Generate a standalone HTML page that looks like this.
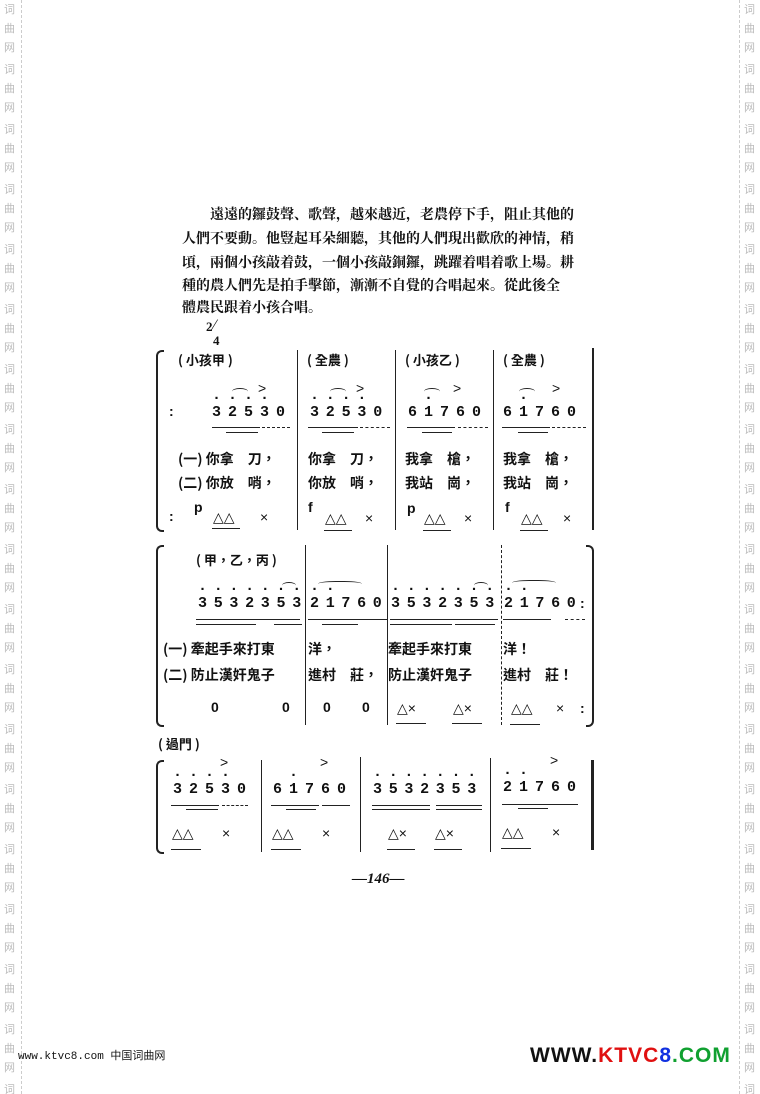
<!DOCTYPE html>
<html><head><meta charset="utf-8">
<style>
html,body{margin:0;padding:0;background:#fff;width:760px;height:1094px;overflow:hidden;}
body{position:relative;font-family:"Liberation Serif","Noto Serif CJK SC","Noto Sans CJK TC",serif;color:#111;}
.a{position:absolute;white-space:pre;line-height:1;}
.wm{position:absolute;font-family:"Noto Sans CJK SC",sans-serif;font-size:11px;color:#bbb;line-height:19px;width:14px;height:60px;white-space:pre;}
.dl{position:absolute;top:0;height:1094px;border-left:1px dashed #ccc;}
.t{position:absolute;font-size:14px;line-height:1;font-family:"Noto Serif CJK SC","Noto Sans CJK TC",serif;font-weight:bold;white-space:nowrap;text-align:justify;text-align-last:justify;}
.n{position:absolute;font-family:"Liberation Mono",monospace;font-size:15px;font-weight:bold;line-height:1;white-space:pre;}
.d{position:absolute;font-family:"Liberation Mono",monospace;font-size:15px;font-weight:bold;line-height:1;white-space:pre;}
.h{position:absolute;height:0;border-top:1.3px solid #222;}
.v{position:absolute;width:0;border-left:1.5px solid #222;}
.l{position:absolute;font-size:13px;font-family:"Noto Sans CJK TC","Noto Sans CJK SC",sans-serif;font-weight:bold;line-height:1;white-space:pre;}
.s{position:absolute;font-size:14px;font-family:"Liberation Sans",sans-serif;line-height:1;white-space:pre;}
.br{position:absolute;width:6px;border:2px solid #222;border-right:none;border-radius:6px 0 0 6px;}
.slur{position:absolute;height:6px;border-top:1.5px solid #222;border-radius:50% 50% 0 0;}
</style></head><body>

<div class="dl" style="left:21px"></div>
<div class="dl" style="left:739px"></div>

<div class="wm" style="left:4px;top:0">词
曲
网</div><div class="wm" style="left:4px;top:60px">词
曲
网</div><div class="wm" style="left:4px;top:120px">词
曲
网</div><div class="wm" style="left:4px;top:180px">词
曲
网</div><div class="wm" style="left:4px;top:240px">词
曲
网</div><div class="wm" style="left:4px;top:300px">词
曲
网</div><div class="wm" style="left:4px;top:360px">词
曲
网</div><div class="wm" style="left:4px;top:420px">词
曲
网</div><div class="wm" style="left:4px;top:480px">词
曲
网</div><div class="wm" style="left:4px;top:540px">词
曲
网</div><div class="wm" style="left:4px;top:600px">词
曲
网</div><div class="wm" style="left:4px;top:660px">词
曲
网</div><div class="wm" style="left:4px;top:720px">词
曲
网</div><div class="wm" style="left:4px;top:780px">词
曲
网</div><div class="wm" style="left:4px;top:840px">词
曲
网</div><div class="wm" style="left:4px;top:900px">词
曲
网</div><div class="wm" style="left:4px;top:960px">词
曲
网</div><div class="wm" style="left:4px;top:1020px">词
曲
网</div><div class="wm" style="left:4px;top:1080px">词</div>
<div class="wm" style="left:744px;top:0">词
曲
网</div><div class="wm" style="left:744px;top:60px">词
曲
网</div><div class="wm" style="left:744px;top:120px">词
曲
网</div><div class="wm" style="left:744px;top:180px">词
曲
网</div><div class="wm" style="left:744px;top:240px">词
曲
网</div><div class="wm" style="left:744px;top:300px">词
曲
网</div><div class="wm" style="left:744px;top:360px">词
曲
网</div><div class="wm" style="left:744px;top:420px">词
曲
网</div><div class="wm" style="left:744px;top:480px">词
曲
网</div><div class="wm" style="left:744px;top:540px">词
曲
网</div><div class="wm" style="left:744px;top:600px">词
曲
网</div><div class="wm" style="left:744px;top:660px">词
曲
网</div><div class="wm" style="left:744px;top:720px">词
曲
网</div><div class="wm" style="left:744px;top:780px">词
曲
网</div><div class="wm" style="left:744px;top:840px">词
曲
网</div><div class="wm" style="left:744px;top:900px">词
曲
网</div><div class="wm" style="left:744px;top:960px">词
曲
网</div><div class="wm" style="left:744px;top:1020px">词
曲
网</div><div class="wm" style="left:744px;top:1080px">词</div>

<!-- paragraph -->
<div class="t" style="left:210px;top:207px;width:347px">遠遠的鑼鼓聲、歌聲，越來越近，老農停下手，阻止其他的</div>
<div class="t" style="left:182px;top:231px;width:375px">人們不要動。他豎起耳朵細聽，其他的人們現出歡欣的神情，稍</div>
<div class="t" style="left:182px;top:255px;width:375px">頃，兩個小孩敲着鼓，一個小孩敲銅鑼，跳躍着唱着歌上場。耕</div>
<div class="t" style="left:182px;top:278px;width:375px">種的農人們先是拍手擊節，漸漸不自覺的合唱起來。從此後全</div>
<div class="t" style="left:182px;top:300px;width:150px;text-align-last:left">體農民跟着小孩合唱。</div>

<div class="a" style="left:206px;top:320px;font-size:13px;font-weight:bold">2</div>
<div class="a" style="left:212px;top:318px;font-size:16px;transform:skewX(-15deg)">/</div>
<div class="a" style="left:213px;top:334px;font-size:13px;font-weight:bold">4</div>

<!-- ROW 1 -->
<div class="br" style="left:156px;top:350px;height:178px"></div>
<div class="v" style="left:297px;top:350px;height:180px"></div>
<div class="v" style="left:395px;top:350px;height:180px"></div>
<div class="v" style="left:493px;top:350px;height:180px"></div>
<div class="v" style="left:592px;top:348px;height:182px;border-left-width:2px"></div>
<div class="s" style="left:169px;top:404px;font-weight:bold">:</div>
<div class="s" style="left:169px;top:509px;font-weight:bold">:</div>

<div class="l" style="left:178px;top:353px">( 小孩甲 )</div>
<div class="l" style="left:307px;top:353px">( 全農 )</div>
<div class="l" style="left:405px;top:353px">( 小孩乙 )</div>
<div class="l" style="left:503px;top:353px">( 全農 )</div>

<div class="n" style="left:212px;top:405px;letter-spacing:7px">32530</div>
<div class="d" style="left:212px;top:391px;letter-spacing:7px">····</div>
<div class="n" style="left:310px;top:405px;letter-spacing:6.8px">32530</div>
<div class="d" style="left:310px;top:391px;letter-spacing:6.8px">····</div>
<div class="n" style="left:408px;top:405px;letter-spacing:7px">61760</div>
<div class="d" style="left:408px;top:391px;letter-spacing:7px"> ·</div>
<div class="n" style="left:503px;top:405px;letter-spacing:7px">61760</div>
<div class="d" style="left:503px;top:391px;letter-spacing:7px"> ·</div>
<div class="slur" style="left:232px;top:388px;width:16px"></div>
<div class="slur" style="left:330px;top:388px;width:16px"></div>
<div class="slur" style="left:424px;top:388px;width:16px"></div>
<div class="slur" style="left:519px;top:388px;width:16px"></div>
<div class="s" style="left:258px;top:381px">&gt;</div>
<div class="s" style="left:356px;top:381px">&gt;</div>
<div class="s" style="left:453px;top:381px">&gt;</div>
<div class="s" style="left:552px;top:381px">&gt;</div>
<div class="h" style="left:212px;top:427px;width:48px"></div><div class="h" style="left:226px;top:432px;width:32px"></div><div class="h" style="left:262px;top:427px;width:28px;border-top-style:dashed"></div>
<div class="h" style="left:308px;top:427px;width:50px"></div><div class="h" style="left:322px;top:432px;width:32px"></div><div class="h" style="left:360px;top:427px;width:30px;border-top-style:dashed"></div>
<div class="h" style="left:407px;top:427px;width:48px"></div><div class="h" style="left:422px;top:432px;width:30px"></div><div class="h" style="left:458px;top:427px;width:30px;border-top-style:dashed"></div>
<div class="h" style="left:502px;top:427px;width:48px"></div><div class="h" style="left:518px;top:432px;width:30px"></div><div class="h" style="left:552px;top:427px;width:34px;border-top-style:dashed"></div>

<div class="l" style="left:178px;top:452px;font-size:14px">(一) 你拿　刀，</div>
<div class="l" style="left:308px;top:452px;font-size:14px">你拿　刀，</div>
<div class="l" style="left:405px;top:452px;font-size:14px">我拿　槍，</div>
<div class="l" style="left:503px;top:452px;font-size:14px">我拿　槍，</div>
<div class="l" style="left:178px;top:476px;font-size:14px">(二) 你放　哨，</div>
<div class="l" style="left:308px;top:476px;font-size:14px">你放　哨，</div>
<div class="l" style="left:405px;top:476px;font-size:14px">我站　崗，</div>
<div class="l" style="left:503px;top:476px;font-size:14px">我站　崗，</div>

<div class="s" style="left:194px;top:500px;font-weight:bold">p</div>
<div class="s" style="left:213px;top:510px">△△</div><div class="s" style="left:260px;top:510px">×</div>
<div class="h" style="left:212px;top:528px;width:28px"></div>
<div class="s" style="left:308px;top:500px;font-weight:bold">f</div>
<div class="s" style="left:325px;top:511px">△△</div><div class="s" style="left:365px;top:511px">×</div>
<div class="h" style="left:324px;top:530px;width:28px"></div>
<div class="s" style="left:407px;top:501px;font-weight:bold">p</div>
<div class="s" style="left:424px;top:511px">△△</div><div class="s" style="left:464px;top:511px">×</div>
<div class="h" style="left:423px;top:530px;width:28px"></div>
<div class="s" style="left:505px;top:500px;font-weight:bold">f</div>
<div class="s" style="left:521px;top:511px">△△</div><div class="s" style="left:563px;top:511px">×</div>
<div class="h" style="left:520px;top:530px;width:28px"></div>

<!-- ROW 2 -->
<div class="br" style="left:156px;top:545px;height:178px"></div>
<div class="v" style="left:305px;top:545px;height:180px"></div>
<div class="v" style="left:387px;top:545px;height:180px"></div>
<div class="v" style="left:501px;top:545px;height:180px;border-left-style:dashed"></div>
<div class="br" style="left:586px;top:545px;height:178px;transform:scaleX(-1)"></div>

<div class="l" style="left:196px;top:553px">( 甲，乙，丙 )</div>
<div class="n" style="left:198px;top:596px;letter-spacing:6.7px">3532353</div>
<div class="d" style="left:198px;top:582px;letter-spacing:6.7px">·······</div>
<div class="n" style="left:310px;top:596px;letter-spacing:6.7px">21760</div>
<div class="d" style="left:310px;top:582px;letter-spacing:6.7px">··</div>
<div class="n" style="left:391px;top:596px;letter-spacing:6.7px">3532353</div>
<div class="d" style="left:391px;top:582px;letter-spacing:6.7px">·······</div>
<div class="n" style="left:504px;top:596px;letter-spacing:6.7px">21760</div>
<div class="d" style="left:504px;top:582px;letter-spacing:6.7px">··</div>
<div class="s" style="left:580px;top:596px;font-weight:bold">:</div>
<div class="slur" style="left:282px;top:582px;width:14px"></div>
<div class="slur" style="left:318px;top:581px;width:44px;border-radius:40% 40% 0 0"></div>
<div class="slur" style="left:474px;top:582px;width:14px"></div>
<div class="slur" style="left:512px;top:580px;width:44px;border-radius:40% 40% 0 0"></div>
<div class="h" style="left:196px;top:619px;width:104px"></div><div class="h" style="left:196px;top:624px;width:60px"></div><div class="h" style="left:274px;top:624px;width:28px"></div>
<div class="h" style="left:308px;top:619px;width:80px"></div><div class="h" style="left:322px;top:624px;width:36px"></div>
<div class="h" style="left:390px;top:619px;width:108px"></div><div class="h" style="left:390px;top:624px;width:62px"></div><div class="h" style="left:455px;top:624px;width:40px"></div>
<div class="h" style="left:503px;top:619px;width:48px"></div><div class="h" style="left:565px;top:619px;width:20px;border-top-style:dashed"></div>

<div class="l" style="left:163px;top:642px;font-size:14px">(一) 牽起手來打東</div>
<div class="l" style="left:308px;top:642px;font-size:14px">洋，</div>
<div class="l" style="left:388px;top:642px;font-size:14px">牽起手來打東</div>
<div class="l" style="left:503px;top:642px;font-size:14px">洋！</div>
<div class="l" style="left:163px;top:668px;font-size:14px">(二) 防止漢奸鬼子</div>
<div class="l" style="left:308px;top:668px;font-size:14px">進村　莊，</div>
<div class="l" style="left:388px;top:668px;font-size:14px">防止漢奸鬼子</div>
<div class="l" style="left:503px;top:668px;font-size:14px">進村　莊！</div>

<div class="s" style="left:211px;top:700px;font-weight:bold">0</div>
<div class="s" style="left:282px;top:700px;font-weight:bold">0</div>
<div class="s" style="left:323px;top:700px;font-weight:bold">0</div>
<div class="s" style="left:362px;top:700px;font-weight:bold">0</div>
<div class="s" style="left:397px;top:701px">△×</div><div class="h" style="left:396px;top:723px;width:30px"></div>
<div class="s" style="left:453px;top:701px">△×</div><div class="h" style="left:452px;top:723px;width:30px"></div>
<div class="s" style="left:511px;top:701px">△△</div><div class="s" style="left:556px;top:701px">×</div><div class="s" style="left:580px;top:701px;font-weight:bold">:</div>
<div class="h" style="left:510px;top:724px;width:30px"></div>

<div class="l" style="left:158px;top:737px">( 過門 )</div>

<!-- ROW 3 -->
<div class="br" style="left:156px;top:760px;height:90px"></div>
<div class="v" style="left:261px;top:760px;height:92px"></div>
<div class="v" style="left:360px;top:757px;height:95px"></div>
<div class="v" style="left:490px;top:758px;height:94px"></div>
<div class="v" style="left:591px;top:760px;height:90px;border-left-width:3px"></div>

<div class="n" style="left:173px;top:782px;letter-spacing:7px">32530</div>
<div class="d" style="left:173px;top:768px;letter-spacing:7px">····</div>
<div class="n" style="left:273px;top:782px;letter-spacing:7px">61760</div>
<div class="d" style="left:273px;top:768px;letter-spacing:7px"> ·</div>
<div class="n" style="left:373px;top:782px;letter-spacing:6.7px">3532353</div>
<div class="d" style="left:373px;top:768px;letter-spacing:6.7px">·······</div>
<div class="n" style="left:503px;top:780px;letter-spacing:7px">21760</div>
<div class="d" style="left:503px;top:766px;letter-spacing:7px">··</div>
<div class="s" style="left:220px;top:755px">&gt;</div>
<div class="s" style="left:320px;top:755px">&gt;</div>
<div class="s" style="left:550px;top:753px">&gt;</div>
<div class="h" style="left:171px;top:805px;width:48px"></div><div class="h" style="left:186px;top:809px;width:32px"></div><div class="h" style="left:222px;top:805px;width:26px;border-top-style:dashed"></div>
<div class="h" style="left:271px;top:805px;width:48px"></div><div class="h" style="left:286px;top:809px;width:30px"></div><div class="h" style="left:322px;top:805px;width:28px"></div>
<div class="h" style="left:372px;top:805px;width:58px"></div><div class="h" style="left:372px;top:809px;width:58px"></div><div class="h" style="left:436px;top:805px;width:46px"></div><div class="h" style="left:436px;top:809px;width:46px"></div>
<div class="h" style="left:502px;top:804px;width:76px"></div><div class="h" style="left:518px;top:808px;width:30px"></div>

<div class="s" style="left:172px;top:826px">△△</div><div class="s" style="left:222px;top:826px">×</div><div class="h" style="left:171px;top:849px;width:30px"></div>
<div class="s" style="left:272px;top:826px">△△</div><div class="s" style="left:322px;top:826px">×</div><div class="h" style="left:271px;top:849px;width:30px"></div>
<div class="s" style="left:388px;top:826px">△×</div><div class="h" style="left:387px;top:849px;width:28px"></div>
<div class="s" style="left:435px;top:826px">△×</div><div class="h" style="left:434px;top:849px;width:28px"></div>
<div class="s" style="left:502px;top:825px">△△</div><div class="s" style="left:552px;top:825px">×</div><div class="h" style="left:501px;top:848px;width:30px"></div>

<div class="a" style="left:352px;top:872px;font-size:15px;font-weight:bold;font-style:italic">—146—</div>

<!-- footer -->
<div class="a" style="left:18px;top:1052px;font-size:11px;font-family:'Liberation Mono','Noto Sans CJK SC',monospace">www.ktvc8.com 中国词曲网</div>
<div class="a" style="left:530px;top:1045px;font-size:21px;font-weight:bold;font-family:'Liberation Sans',sans-serif;letter-spacing:1px"><span style="color:#111">WWW.</span><span style="color:#e01010">KTVC</span><span style="color:#1030e0">8</span><span style="color:#10a030">.COM</span></div>

</body></html>
